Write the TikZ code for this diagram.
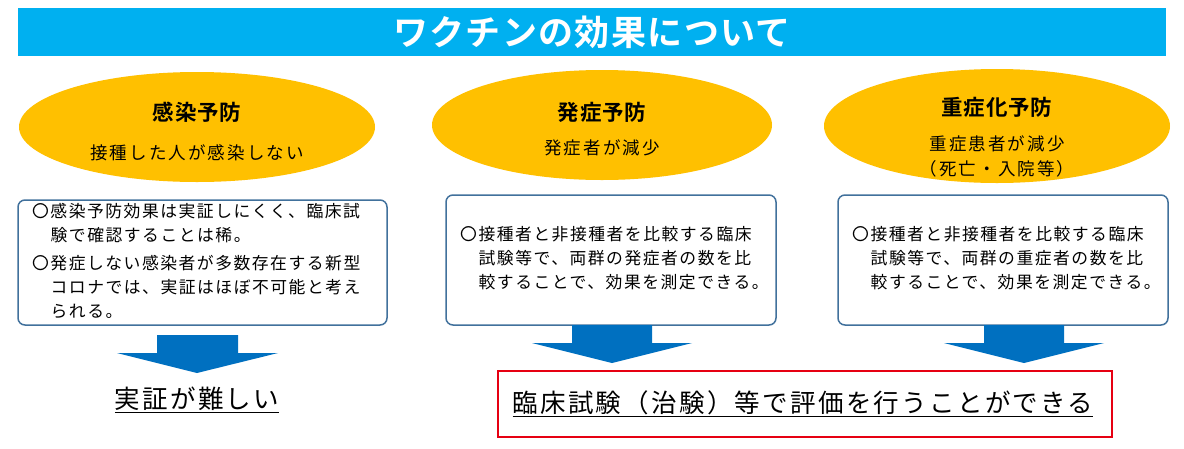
\documentclass[tikz,border=0pt]{standalone}
\usepackage{fontspec}
\newfontfamily\cjk[LetterSpace=9]{Noto Sans CJK JP}
\newfontfamily\cjks[LetterSpace=12]{Noto Sans CJK JP}
\newfontfamily\cjkb[LetterSpace=4]{Noto Sans CJK JP Bold}
\usetikzlibrary{shapes.geometric}
\definecolor{ban}{RGB}{0,176,240}
\definecolor{gold}{RGB}{255,192,0}
\definecolor{bord}{RGB}{65,113,156}
\definecolor{arr}{RGB}{0,112,192}
\definecolor{redb}{RGB}{230,0,18}
\begin{document}
\begin{tikzpicture}[x=1pt,y=-1pt,
  ell/.style={ellipse,fill=gold,inner sep=0pt},
  tbox/.style={draw=bord,line width=1.5pt,rounded corners=7pt,fill=white},
  body/.style={font=\cjk\fontsize{16.8}{24}\selectfont,align=left,anchor=north west,inner sep=0pt},
  head/.style={font=\cjkb\fontsize{21.5}{24}\selectfont},
  sub/.style={font=\cjks\fontsize{17.5}{25}\selectfont,align=center}]
\useasboundingbox (0,0) rectangle (1184,448);
\fill[white] (0,0) rectangle (1184,448);
\node[fill=ban,minimum width=1148pt,minimum height=48pt,inner sep=0pt,text=white,font=\cjkb\fontsize{35}{36}\selectfont] (title) at (592,32) {ワクチンの効果について};
% ellipses
\node[ell,minimum width=356pt,minimum height=110pt] (e1) at (197,127) {};
\node[ell,minimum width=340pt,minimum height=110pt] (e2) at (602,125) {};
\node[ell,minimum width=346pt,minimum height=114pt] (e3) at (997,126) {};
\node[head] (h1) at (197,112) {感染予防};
\node[sub] (s1) at (197,153) {接種した人が感染しない};
\node[head] (h2) at (602,112) {発症予防};
\node[sub] (s2) at (602,148) {発症者が減少};
\node[head] (h3) at (997,107) {重症化予防};
\node[sub] (s3) at (997,156) {重症患者が減少\\（死亡・入院等）};
% boxes
\draw[tbox] (18,200) rectangle (387,325);
\draw[tbox] (446,195) rectangle (776,325);
\draw[tbox] (838,195) rectangle (1168,325);
\node[body] (b1a) at (32,203) {〇感染予防効果は実証しにくく、臨床試\\\hspace*{1.1em}験で確認することは稀。};
\node[body] (b1b) at (32,255) {〇発症しない感染者が多数存在する新型\\\hspace*{1.1em}コロナでは、実証はほぼ不可能と考え\\\hspace*{1.1em}られる。};
\node[body] (b2) at (460,226) {〇接種者と非接種者を比較する臨床\\\hspace*{1.1em}試験等で、両群の発症者の数を比\\\hspace*{1.1em}較することで、効果を測定できる。};
\node[body] (b3) at (852,226) {〇接種者と非接種者を比較する臨床\\\hspace*{1.1em}試験等で、両群の重症者の数を比\\\hspace*{1.1em}較することで、効果を測定できる。};
% arrows
\fill[arr] (157,335) -- (238,335) -- (238,353) -- (278,353) -- (197,373) -- (117,353) -- (157,353) -- cycle;
\fill[arr] (572,325) -- (652,325) -- (652,343) -- (692,343) -- (612,363) -- (532,343) -- (572,343) -- cycle;
\fill[arr] (984,325) -- (1064,325) -- (1064,343) -- (1104,343) -- (1024,363) -- (944,343) -- (984,343) -- cycle;
% conclusions
\node[font=\cjk\fontsize{25.5}{28}\selectfont] (c1) at (197,400) {\underline{実証が難しい}};
\draw[redb,line width=1.8pt] (498,371) rectangle (1112,437);
\node[font=\cjk\fontsize{25.5}{28}\selectfont] (c2) at (803,404) {\underline{臨床試験（治験）等で評価を行うことができる}};
\end{tikzpicture}
\end{document}
